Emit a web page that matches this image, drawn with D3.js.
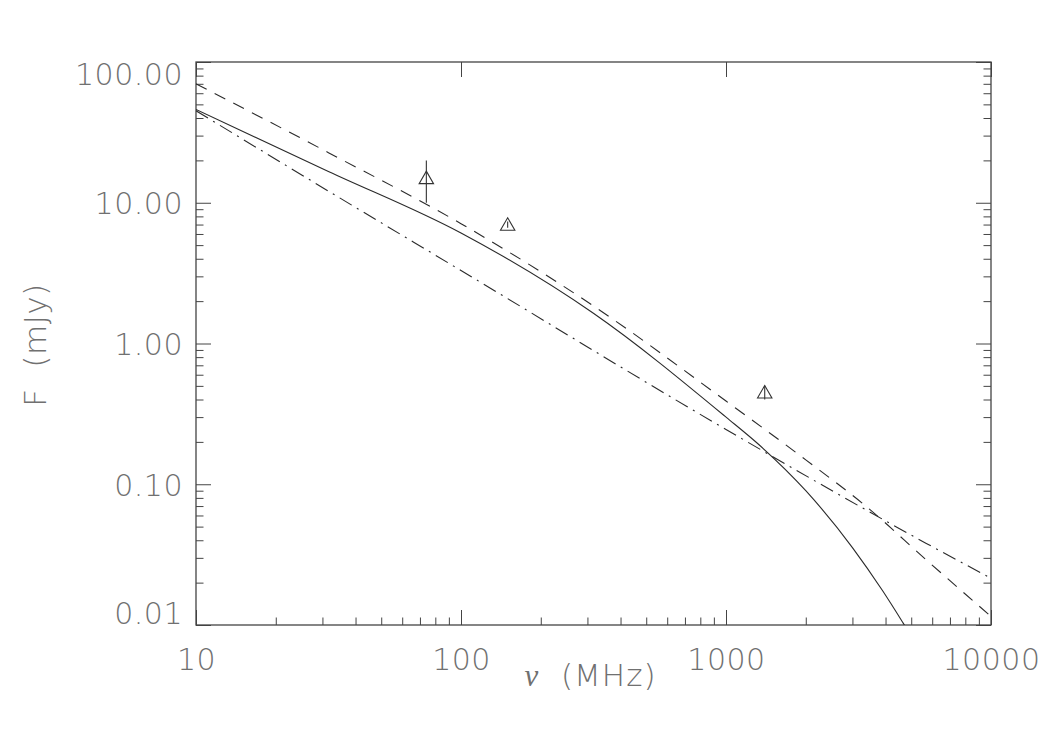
<!DOCTYPE html>
<html>
<head>
<meta charset="utf-8">
<script src="https://cdn.jsdelivr.net/npm/d3@7"></script>
<style>
  body { margin: 0; background: #fff; }
  text { font-family: "DejaVu Sans", "Liberation Sans", sans-serif; font-weight: 200; fill: #707070; }
</style>
</head>
<body>
<div id="chart-area"></div>
<script>
// Model curves (frequency in MHz, flux in mJy)
let solidFreq = [10, 31.6, 100, 316, 1000, 1336, 2000, 3000, 3900, 4650, 5200]
let solidFlux = [46, 16.7, 6.1, 1.64, 0.30, 0.19, 0.090, 0.0355, 0.0175, 0.0104, 0.0074]

let dashFreq = [10, 31.6, 100, 316, 1000, 2000, 3400, 5700, 10000]
let dashFlux = [70, 22.7, 7.1, 1.85, 0.39, 0.149, 0.069, 0.029, 0.0115]

let dotDashFreq = [10, 31.6, 100, 1000, 5700, 10000]
let dotDashFlux = [45, 12.1, 3.3, 0.245, 0.038, 0.0215]

// Measurements (triangles with error bars)
let obsFreq = [74, 150, 1400]
let obsFlux = [15, 7.0, 0.45]
let obsErr = [5, 0.35, 0.05]

// Axis ticks
let xMajor = [10, 100, 1000, 10000]
let yMajor = [0.01, 0.1, 1, 10, 100]

// Create margins, svg, and graph group
let margin = { left: 196, right: 59, top: 62, bottom: 125 }
let width = 1050 - margin.left - margin.right
let height = 750 - margin.top - margin.bottom

let svg = d3.select('#chart-area').append('svg')
  .attr('width', width + margin.left + margin.right)
  .attr('height', height + margin.top + margin.bottom)

let g = svg.append('g')
  .attr('transform', 'translate(' + margin.left + ', ' + margin.top + ')')

// Scales
let x = d3.scaleLog().domain([10, 10000]).range([0, width])
let y = d3.scaleLog().domain([0.01, 100]).range([height, 0])

// minor ticks: 2..9 of every decade
function minors(lo, hi) {
  let out = []
  for (let dec = lo; dec < hi; dec *= 10) {
    for (let k = 2; k <= 9; k++) out.push(+(dec * k).toPrecision(3))
  }
  return out
}
let xMinor = minors(10, 10000)
let yMinor = minors(0.01, 100)

let majorLen = 15
let minorLen = 7.5

// Axes, ticks point inward on all four sides
let xBottom = g.append('g').attr('transform', 'translate(0,' + height + ')')
xBottom.call(d3.axisBottom(x).tickValues(xMinor).tickSizeInner(-minorLen).tickSizeOuter(0).tickFormat(''))
let xBottomMaj = g.append('g').attr('transform', 'translate(0,' + height + ')')
xBottomMaj.call(d3.axisBottom(x).tickValues(xMajor).tickSizeInner(-majorLen).tickSizeOuter(0)
  .tickPadding(24).tickFormat(d3.format('d')))

let xTop = g.append('g')
xTop.call(d3.axisTop(x).tickValues(xMinor).tickSizeInner(-minorLen).tickSizeOuter(0).tickFormat(''))
xTop.call(d3.axisTop(x).tickValues(xMajor).tickSizeInner(-majorLen).tickSizeOuter(0).tickFormat(''))

let yLeft = g.append('g')
yLeft.call(d3.axisLeft(y).tickValues(yMinor).tickSizeInner(-minorLen).tickSizeOuter(0).tickFormat(''))
let yLeftMaj = g.append('g')
yLeftMaj.call(d3.axisLeft(y).tickValues(yMajor).tickSizeInner(-majorLen).tickSizeOuter(0)
  .tickPadding(13).tickFormat(d3.format('.2f')))

let yRight = g.append('g').attr('transform', 'translate(' + width + ',0)')
yRight.call(d3.axisRight(y).tickValues(yMinor).tickSizeInner(-minorLen).tickSizeOuter(0).tickFormat(''))
let yRightMaj = g.append('g').attr('transform', 'translate(' + width + ',0)')
yRightMaj.call(d3.axisRight(y).tickValues(yMajor).tickSizeInner(-majorLen).tickSizeOuter(0).tickFormat(''))

g.selectAll('.domain').remove()
g.selectAll('.tick line').attr('stroke', '#444').attr('stroke-width', 1)

// tick label styling
g.selectAll('.tick text')
  .style('font-size', '30px')
  .style('letter-spacing', '0.5px')
  .attr('fill', '#707070')

// end labels on y are kept inside the frame (as IDL does)
yLeftMaj.selectAll('.tick text')
  .attr('dy', (d) => d === 100 ? '0.75em' : (d === 0.01 ? '-0.05em' : '0.36em'))

// frame
g.append('rect')
  .attr('width', width)
  .attr('height', height)
  .attr('fill', 'none')
  .attr('stroke', '#444')
  .attr('stroke-width', 1.3)

// clip for curves
g.append('clipPath').attr('id', 'plot-clip')
  .append('rect').attr('width', width).attr('height', height)

let line = d3.line()
  .x((d) => x(d[0]))
  .y((d) => y(d[1]))
  .curve(d3.curveMonotoneX)

let curves = [
  { f: solidFreq, v: solidFlux, dash: null },
  { f: dashFreq, v: dashFlux, dash: '12,9' },
  { f: dotDashFreq, v: dotDashFlux, dash: '14,6,2,6' }
]

let plot = g.append('g').attr('clip-path', 'url(#plot-clip)')
curves.forEach((c) => {
  plot.append('path')
    .attr('fill', 'none')
    .attr('stroke', '#2a2a2a')
    .attr('stroke-width', 1.1)
    .attr('stroke-dasharray', c.dash)
    .attr('d', line(c.f.map((f, i) => [f, c.v[i]])))
})

// measurements
let tri = d3.symbol().type(d3.symbolTriangle).size(90)
obsFreq.forEach((f, i) => {
  let px = x(f), py = y(obsFlux[i])
  plot.append('line')
    .attr('x1', px).attr('x2', px)
    .attr('y1', y(obsFlux[i] + obsErr[i]))
    .attr('y2', y(obsFlux[i] - obsErr[i]))
    .attr('stroke', '#333')
    .attr('stroke-width', 1.1)
  plot.append('path')
    .attr('d', tri())
    .attr('transform', 'translate(' + px + ',' + (py + 1.5) + ')')
    .attr('fill', 'none')
    .attr('stroke', '#333')
    .attr('stroke-width', 1.1)
})

// axis titles
svg.append('text')
  .attr('x', margin.left + width / 2 - 3)
  .attr('y', 686)
  .attr('text-anchor', 'middle')
  .attr('xml:space', 'preserve')
  .style('font-size', '31px')
  .style('letter-spacing', '1px')
  .html('<tspan font-style="italic" font-weight="400" font-family="Liberation Serif" fill="#707070">ν</tspan>  (MHz)')

svg.append('text')
  .attr('transform', 'translate(46, 345) rotate(-90)')
  .attr('text-anchor', 'middle')
  .style('font-size', '31px')
  .style('letter-spacing', '0.5px')
  .attr('xml:space', 'preserve')
  .text('F  (mJy)')
</script>
</body>
</html>
